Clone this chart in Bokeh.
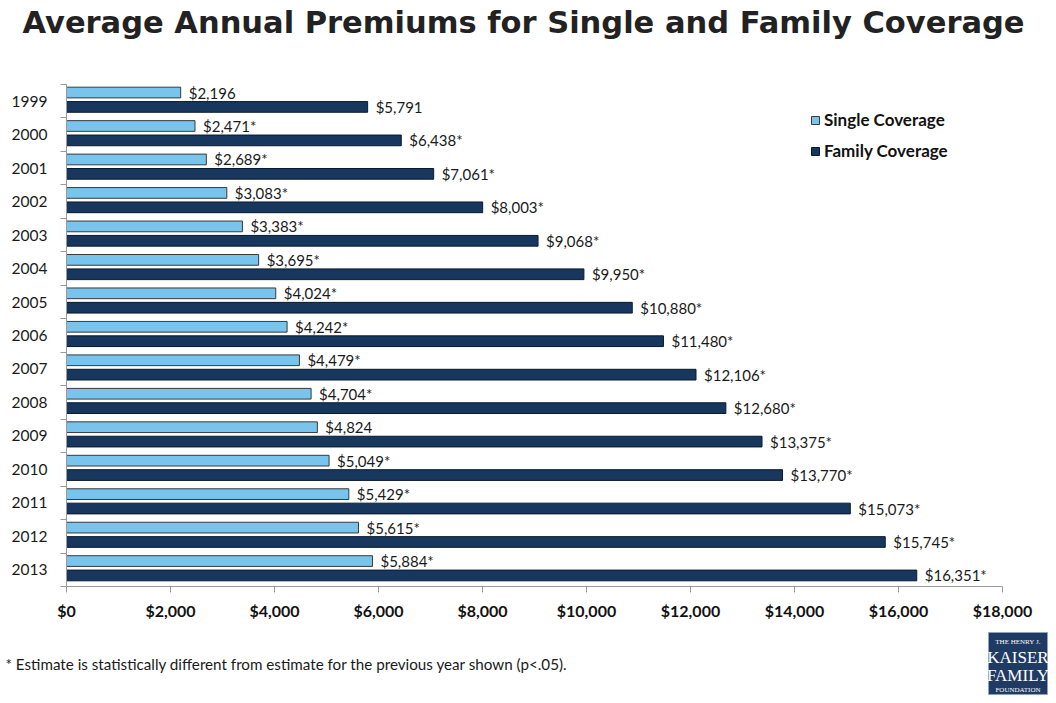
from bokeh.plotting import figure
from bokeh.models import (Range1d, FixedTicker, NumeralTickFormatter, Legend, LegendItem,
                          Label, ColumnDataSource)
from bokeh.embed import file_html
from bokeh.resources import INLINE
from bokeh.core.properties import value

years = ["1999", "2000", "2001", "2002", "2003", "2004", "2005", "2006", "2007",
         "2008", "2009", "2010", "2011", "2012", "2013"]
single = [2196, 2471, 2689, 3083, 3383, 3695, 4024, 4242, 4479, 4704, 4824, 5049, 5429, 5615, 5884]
family = [5791, 6438, 7061, 8003, 9068, 9950, 10880, 11480, 12106, 12680, 13375, 13770, 15073, 15745, 16351]
single_sig = [False, True, True, True, True, True, True, True, True, True, False, True, True, True, True]
family_sig = [False] + [True] * 14
x_ticks = [0, 2000, 4000, 6000, 8000, 10000, 12000, 14000, 16000, 18000]
X_MAX = 18000

TITLE = "Average Annual Premiums for Single and Family Coverage"
FOOTNOTE = "* Estimate is statistically different from estimate for the previous year shown (p<.05)."
LOGO_LINES = ["THE HENRY J.", "KAISER", "FAMILY", "FOUNDATION"]

W, H = 1048, 695
# plot area on the page (pixels)
PL, PR, PT, PB = 66, 1002, 84, 586
FONT = "Lato"
SINGLE_C = "#79C4EC"
FAMILY_C = "#17375E"

n = len(years)
centers = [i + 0.5 for i in range(n)]
bounds = [float(i) for i in range(n + 1)]

# ranges chosen so that the data area [0, X_MAX] x [0, n] lands on the page box above,
# while the frame itself fills the whole canvas (axes are pinned with fixed_location)
kx = X_MAX / (PR - PL)
ky = n / (PB - PT)
x_range = Range1d(-PL * kx, X_MAX + (W - PR) * kx)
y_range = Range1d(n + (H - PB) * ky, -PT * ky)

def lab(v, s):
    return "${:,}".format(v) + ("*" if s else "")

src = ColumnDataSource(dict(
    year=years,
    single=single,
    family=family,
    ys=[c - 0.26 for c in centers],
    yf=[c + 0.17 for c in centers],
    ls=[lab(v, s) for v, s in zip(single, single_sig)],
    lf=[lab(v, s) for v, s in zip(family, family_sig)],
))

p = figure(width=W, height=H, output_backend="svg", toolbar_location=None,
           x_range=x_range, y_range=y_range, min_border=0)
p.outline_line_color = None
p.xgrid.grid_line_color = None
p.ygrid.grid_line_color = None
p.background_fill_color = "white"

rs = p.hbar(y="ys", left=0, right="single", height=0.32, source=src,
            fill_color=SINGLE_C, line_color="#3a3a3a", line_width=1)
rf = p.hbar(y="yf", left=0, right="family", height=0.32, source=src,
            fill_color=FAMILY_C, line_color="#0b1a2c", line_width=1)

p.text(x="single", y="ys", text="ls", source=src, x_offset=8,
       text_baseline="middle", text_align="left", text_font=value(FONT),
       text_font_size="15px", text_color="#1a1a1a")
p.text(x="family", y="yf", text="lf", source=src, x_offset=8,
       text_baseline="middle", text_align="left", text_font=value(FONT),
       text_font_size="15px", text_color="#1a1a1a")

xa = p.xaxis[0]
xa.fixed_location = n
xa.bounds = (0, X_MAX)
xa.ticker = FixedTicker(ticks=x_ticks)
xa.formatter = NumeralTickFormatter(format="$0,0")
xa.axis_line_color = "#9a9a9a"
xa.major_tick_line_color = "#9a9a9a"
xa.major_tick_out = 6
xa.major_tick_in = 0
xa.minor_tick_line_color = None
xa.major_label_text_font = FONT
xa.major_label_text_font_style = "bold"
xa.major_label_text_font_size = "16px"
xa.major_label_text_color = "#111111"
xa.major_label_standoff = 8

ya = p.yaxis[0]
ya.fixed_location = 0
ya.bounds = (0, n)
ya.ticker = FixedTicker(ticks=centers, minor_ticks=bounds)
ya.major_label_overrides = {c: y for c, y in zip(centers, years)}
ya.axis_line_color = "#9a9a9a"
ya.major_tick_line_color = None
ya.major_tick_out = 0
ya.major_tick_in = 0
ya.minor_tick_line_color = "#9a9a9a"
ya.minor_tick_out = 6
ya.minor_tick_in = 0
ya.major_label_text_font = FONT
ya.major_label_text_font_size = "15.5px"
ya.major_label_text_color = "#1a1a1a"
ya.major_label_standoff = 13

legend = Legend(items=[LegendItem(label="Single Coverage", renderers=[rs]),
                       LegendItem(label="Family Coverage", renderers=[rf])],
                location=(810, H - 161), orientation="vertical",
                glyph_width=10, glyph_height=10, label_height=20, spacing=10,
                padding=0, margin=0, label_standoff=4,
                border_line_color=None, background_fill_alpha=0,
                label_text_font=FONT, label_text_font_style="bold",
                label_text_font_size="17px", label_text_color="#111111")
p.add_layout(legend, "center")

# page-pixel helpers for the non-data texts (screen units are frame relative, y up)
def lbl(txt, px, py, **kw):
    p.add_layout(Label(x=px, y=H - py, x_units="screen", y_units="screen", text=txt,
                       text_baseline="middle", **kw))

lbl(TITLE, 523, 22, text_align="center", text_font="DejaVu Sans",
    text_font_style="bold", text_font_size="30.5px", text_color="#222222")
lbl(FOOTNOTE, 5, 663, text_align="left", text_font=FONT,
    text_font_size="15.2px", text_color="#1a1a1a")

# logo box drawn in data space converted from page pixels
def dx(px):
    return x_range.start + px * kx

def dy(py):
    return -PT * ky + py * ky

p.quad(left=[dx(988)], right=[dx(1047)], top=[dy(632)], bottom=[dy(694)],
       fill_color="#1F3B63", line_color="#8fa3c0", line_width=1)
for txt, py, fs in zip(LOGO_LINES, [641, 657, 675, 689], ["7px", "17px", "17px", "7px"]):
    lbl(txt, 1017.5, py, text_align="center", text_font="Liberation Serif",
        text_font_size=fs, text_color="white")

open("out.html", "w").write(file_html(p, INLINE))
